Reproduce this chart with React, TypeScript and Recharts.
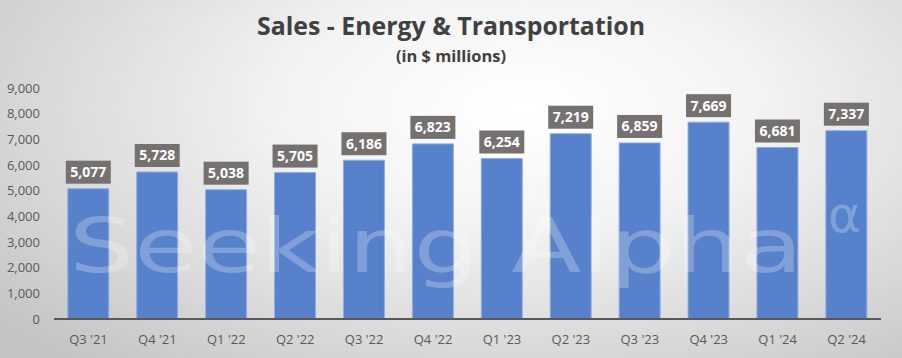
import React from "react";
import { BarChart, Bar, XAxis, YAxis, LabelList } from "recharts";

const categories = ["Q3 '21", "Q4 '21", "Q1 '22", "Q2 '22", "Q3 '22", "Q4 '22", "Q1 '23", "Q2 '23", "Q3 '23", "Q4 '23", "Q1 '24", "Q2 '24"];
const sales = [5077, 5728, 5038, 5705, 6186, 6823, 6254, 7219, 6859, 7669, 6681, 7337];
const yTicks = [0, 1000, 2000, 3000, 4000, 5000, 6000, 7000, 8000, 9000];

const data = categories.map((c, i) => ({ name: c, value: sales[i] }));

const FONT = "'Open Sans', 'Liberation Sans', sans-serif";

const renderLabel = (props: any) => {
  const { x, y, width, value } = props;
  const cx = x + width / 2;
  const txt = Number(value).toLocaleString("en-US");
  const w = 45;
  const h = 23;
  return (
    <g>
      <rect x={cx - w / 2} y={y - 5 - h} width={w} height={h} fill="#767171" />
      <text x={cx} y={y - 5 - h / 2 + 5} textAnchor="middle" fill="#ffffff" fontSize={14} fontWeight="bold" fontFamily={FONT}>
        {txt}
      </text>
    </g>
  );
};

export default function App() {
  return (
    <div
      style={{
        position: "absolute",
        left: 0,
        top: 0,
        width: 902,
        height: 358,
        background: "radial-gradient(ellipse 75% 95% at 58% 30%, #ffffff 0%, #f3f3f3 35%, #dadada 70%, #c4c4c4 100%)",
        overflow: "hidden",
      }}
    >
      <svg width={902} height={358} style={{ position: "absolute", left: 0, top: 0 }}>
        <text x={451} y={35} textAnchor="middle" fontSize={25} fontWeight="bold" fill="#404040" fontFamily={FONT} textLength={388} lengthAdjust="spacingAndGlyphs">
          Sales - Energy &amp; Transportation
        </text>
        <text x={451} y={62} textAnchor="middle" fontSize={16} fontWeight="bold" fill="#404040" fontFamily={FONT} textLength={110} lengthAdjust="spacingAndGlyphs">
          (in $ millions)
        </text>
      </svg>
      <div style={{ position: "absolute", left: 0, top: 0 }}>
        <BarChart width={902} height={358} data={data} margin={{ top: 88, right: 21, bottom: 9, left: 0 }} barCategoryGap="20%">
          <XAxis
            dataKey="name"
            tickLine={false}
            axisLine={{ stroke: "#595959", strokeWidth: 2 }}
            tick={{ fill: "#595959", fontSize: 13, fontFamily: FONT }}
            tickMargin={10}
            interval={0}
          />
          <YAxis
            width={54}
            domain={[0, 9000]}
            ticks={yTicks}
            tickLine={false}
            axisLine={false}
            tick={{ fill: "#595959", fontSize: 13, fontFamily: FONT }}
            tickFormatter={(v: number) => v.toLocaleString("en-US")}
            tickMargin={8}
          />
          <Bar dataKey="value" fill="#5781CB" stroke="#8FAEE0" strokeWidth={1} isAnimationActive={false}>
            <LabelList dataKey="value" content={renderLabel} />
          </Bar>
        </BarChart>
      </div>
      <svg width={902} height={358} style={{ position: "absolute", left: 0, top: 0, pointerEvents: "none" }}>
        <text x={69} y={272} fontSize={74} fill="#ffffff" fillOpacity={0.25} fontFamily="'DejaVu Sans', sans-serif" textLength={734} lengthAdjust="spacingAndGlyphs">
          Seeking Alpha
        </text>
        <text x={828} y={232} fontSize={50} fill="#ffffff" fillOpacity={0.25} fontFamily="'DejaVu Sans', sans-serif">
          α
        </text>
      </svg>
    </div>
  );
}
